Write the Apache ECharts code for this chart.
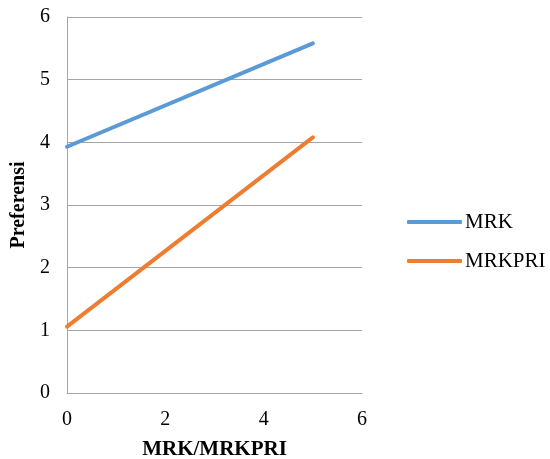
<!DOCTYPE html>
<html>
<head>
<meta charset="utf-8">
<script src="https://cdn.jsdelivr.net/npm/echarts@6/dist/echarts.min.js"></script>
<style>
  html, body { margin: 0; padding: 0; background: #fff; }
  #chart { width: 550px; height: 459px; }
</style>
</head>
<body>
<div id="chart"></div>
<script>
// Two straight preference lines over the MRK/MRKPRI range
const xValues = [0, 5];
const mrk = [3.93, 5.58];
const mrkpri = [1.06, 4.08];
const seriesNames = ['MRK', 'MRKPRI'];
const colors = ['#5B9BD5', '#ED7D31'];

const font = '"Liberation Serif", "Times New Roman", serif';

const chart = echarts.init(document.getElementById('chart'));
chart.setOption({
  animation: false,
  color: colors,
  grid: { left: 67, right: 188, top: 17, bottom: 66, outerBoundsMode: 'none' },
  legend: {
    orient: 'vertical',
    left: 402,
    top: 205,
    itemWidth: 55,
    itemHeight: 4,
    itemGap: 15,
    icon: 'roundRect',
    data: seriesNames,
    textStyle: { fontFamily: font, fontSize: 21, color: '#000', padding: [0, 0, 0, -2], lineHeight: 24 }
  },
  xAxis: {
    type: 'value',
    min: 0, max: 6, interval: 2,
    name: 'MRK/MRKPRI',
    nameLocation: 'middle',
    nameGap: 46,
    nameTextStyle: { fontFamily: font, fontSize: 21, fontWeight: 'bold', color: '#000' },
    axisLine: { show: true, lineStyle: { color: '#A6A6A6', width: 1 } },
    axisTick: { show: false },
    splitLine: { show: false },
    axisLabel: { fontFamily: font, fontSize: 20, color: '#000', margin: 17 }
  },
  yAxis: {
    type: 'value',
    min: 0, max: 6, interval: 1,
    name: 'Preferensi',
    nameLocation: 'middle',
    nameGap: 37,
    nameRotate: 90,
    nameTextStyle: { fontFamily: font, fontSize: 20, fontWeight: 'bold', color: '#000' },
    axisLine: { show: true, lineStyle: { color: '#A6A6A6', width: 1 } },
    axisTick: { show: false },
    splitLine: { show: true, lineStyle: { color: '#A6A6A6', width: 1 } },
    axisLabel: { fontFamily: font, fontSize: 20, color: '#000', margin: 17 }
  },
  series: [
    {
      name: seriesNames[0],
      type: 'line',
      data: xValues.map((x, i) => [x, mrk[i]]),
      showSymbol: false,
      lineStyle: { width: 4, cap: 'round' }
    },
    {
      name: seriesNames[1],
      type: 'line',
      data: xValues.map((x, i) => [x, mrkpri[i]]),
      showSymbol: false,
      lineStyle: { width: 4, cap: 'round' }
    }
  ]
});
</script>
</body>
</html>
